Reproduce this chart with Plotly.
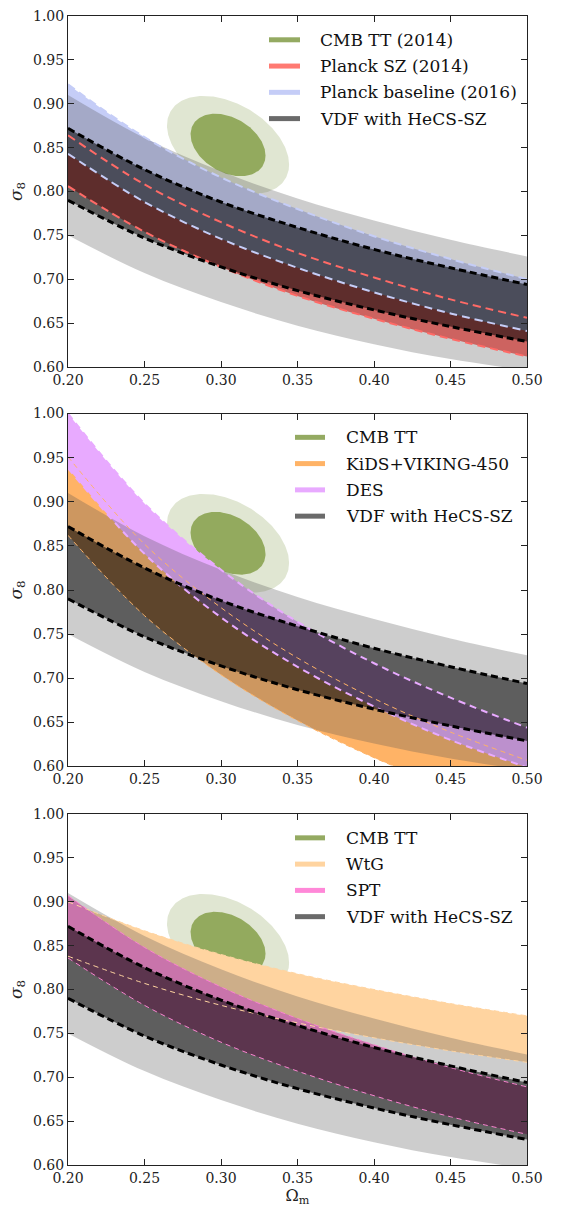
import numpy as np
import plotly.graph_objects as go

# ---------------- data ----------------
om = [0.20, 0.25, 0.30, 0.35, 0.40, 0.45, 0.50]

# VDF with HeCS-SZ (shared by all panels)
vdf_1s_hi = [0.872, 0.825, 0.788, 0.759, 0.734, 0.713, 0.694]
vdf_1s_lo = [0.790, 0.747, 0.714, 0.687, 0.665, 0.646, 0.629]
vdf_2s_hi = [0.910, 0.861, 0.823, 0.792, 0.767, 0.745, 0.726]
vdf_2s_lo = [0.750, 0.707, 0.674, 0.647, 0.626, 0.609, 0.596]

# panel 1
planck_sz_hi = [0.864, 0.808, 0.765, 0.730, 0.702, 0.677, 0.656]
planck_sz_lo = [0.806, 0.754, 0.714, 0.681, 0.655, 0.632, 0.612]
planck_base_hi = [0.922, 0.862, 0.816, 0.780, 0.749, 0.723, 0.700]
planck_base_lo = [0.843, 0.788, 0.746, 0.713, 0.685, 0.661, 0.641]

# panel 2
kids_hi = [0.951, 0.852, 0.780, 0.723, 0.677, 0.639, 0.607]
kids_lo = [0.862, 0.771, 0.704, 0.652, 0.610, 0.575, 0.545]
des_hi = [1.000, 0.898, 0.823, 0.764, 0.717, 0.678, 0.644]
des_lo = [0.938, 0.841, 0.769, 0.713, 0.668, 0.630, 0.599]

# panel 3
wtg_hi = [0.900, 0.867, 0.840, 0.818, 0.800, 0.784, 0.770]
wtg_lo = [0.838, 0.807, 0.782, 0.762, 0.745, 0.730, 0.717]
spt_hi = [0.907, 0.848, 0.803, 0.767, 0.737, 0.711, 0.689]
spt_lo = [0.836, 0.782, 0.740, 0.707, 0.679, 0.655, 0.635]

# CMB TT contour (1 and 2 sigma): centre, half widths, correlation
cmb_center = [0.3046, 0.853]
cmb_half_om = [0.0245, 0.0399]
cmb_half_s8 = [0.0356, 0.0559]
cmb_rho = [-0.34, -0.40]

legend_labels = [
    ["CMB TT (2014)", "Planck SZ (2014)", "Planck baseline (2016)", "VDF with HeCS-SZ"],
    ["CMB TT", "KiDS+VIKING-450", "DES", "VDF with HeCS-SZ"],
    ["CMB TT", "WtG", "SPT", "VDF with HeCS-SZ"],
]
x_ticks = [0.20, 0.25, 0.30, 0.35, 0.40, 0.45, 0.50]
y_ticks = [0.60, 0.65, 0.70, 0.75, 0.80, 0.85, 0.90, 0.95, 1.00]

# ---------------- styling ----------------
C_CMB_IN = "#93aa5e"
C_CMB_OUT = "#e0e6d2"
C_CMB_LEG = "#94aa62"
C_SZ = "#ff6a66"
C_BASE = "#c5cdf7"
C_KIDS = "#ffb366"
C_DES = "#e8aaff"
C_WTG = "#ffd4a0"
C_SPT = "#fa82d0"
GRAY2 = "rgba(81,81,81,0.29)"
GRAY1 = "rgba(0,0,0,0.54)"
C_VDF_LEG = "#6a6a6a"
FONT = "DejaVu Serif"

W, H = 561, 1209
L, R, T, B = 68, 34, 8, 42
panels_px = [(8, 362), (409, 765), (813, 1167)]
ph = H - T - B

fig = go.Figure()
axn = ["", "2", "3"]


def add_band(k, lo, hi, color):
    xa, ya = "x" + axn[k], "y" + axn[k]
    fig.add_trace(go.Scatter(x=om, y=lo, mode="lines", line=dict(width=0, shape="spline"),
                             hoverinfo="skip", showlegend=False, xaxis=xa, yaxis=ya))
    fig.add_trace(go.Scatter(x=om, y=hi, mode="lines", line=dict(width=0, shape="spline"),
                             fill="tonexty", fillcolor=color, hoverinfo="skip",
                             showlegend=False, xaxis=xa, yaxis=ya))


def add_dash(k, ys, color, width, dash):
    fig.add_trace(go.Scatter(x=om, y=ys, mode="lines",
                             line=dict(color=color, width=width, dash=dash, shape="spline"),
                             hoverinfo="skip", showlegend=False,
                             xaxis="x" + axn[k], yaxis="y" + axn[k]))


def add_cmb(k):
    t = np.linspace(0, 2 * np.pi, 240)
    for j, col in [(1, C_CMB_OUT), (0, C_CMB_IN)]:
        ex = cmb_center[0] + cmb_half_om[j] * np.cos(t)
        ey = cmb_center[1] + cmb_half_s8[j] * (cmb_rho[j] * np.cos(t)
                                                + np.sqrt(1 - cmb_rho[j] ** 2) * np.sin(t))
        fig.add_trace(go.Scatter(x=ex, y=ey, mode="lines", line=dict(width=0),
                                 fill="toself", fillcolor=col, hoverinfo="skip",
                                 showlegend=False, xaxis="x" + axn[k], yaxis="y" + axn[k]))


band_sets = [
    [(planck_sz_lo, planck_sz_hi, C_SZ, 2, "8px,5px"),
     (planck_base_lo, planck_base_hi, C_BASE, 2, "8px,5px")],
    [(kids_lo, kids_hi, C_KIDS, 1, "5px,4px"),
     (des_lo, des_hi, C_DES, 2, "7px,5px")],
    [(wtg_lo, wtg_hi, C_WTG, 1, "5px,4px"),
     (spt_lo, spt_hi, C_SPT, 1, "5px,4px")],
]
legend_colors = [
    [C_CMB_LEG, "#ff7a72", C_BASE, C_VDF_LEG],
    [C_CMB_LEG, C_KIDS, C_DES, C_VDF_LEG],
    [C_CMB_LEG, C_WTG, "#ff88d8", C_VDF_LEG],
]

for k in range(3):
    add_cmb(k)
    for lo, hi, col, w, d in band_sets[k]:
        add_band(k, lo, hi, col)
    add_band(k, vdf_2s_lo, vdf_2s_hi, GRAY2)
    add_band(k, vdf_1s_lo, vdf_1s_hi, GRAY1)
    for lo, hi, col, w, d in band_sets[k]:
        add_dash(k, lo, col, w, d)
        add_dash(k, hi, col, w, d)
    add_dash(k, vdf_1s_lo, "black", 3, "7px,4px")
    add_dash(k, vdf_1s_hi, "black", 3, "7px,4px")

axis_common = dict(showline=True, linecolor="#222", linewidth=1, mirror="ticks",
                   ticks="inside", ticklen=6, tickwidth=1, tickcolor="#222",
                   showgrid=False, zeroline=False, tickformat=".2f",
                   tickfont=dict(family=FONT, size=14, color="#222"))

layout = dict(width=W, height=H, margin=dict(l=L, r=R, t=T, b=B),
              paper_bgcolor="white", plot_bgcolor="white", showlegend=False)
shapes, annotations = [], []
for k, (top, bot) in enumerate(panels_px):
    d0 = 1 - (bot - T) / ph
    d1 = 1 - (top - T) / ph
    xa = dict(axis_common, domain=[0, 1], range=[0.2, 0.5], anchor="y" + axn[k],
              tickvals=x_ticks)
    ya = dict(axis_common, domain=[max(0, d0), min(1, d1)], range=[0.6, 1.0],
              anchor="x" + axn[k], tickvals=y_ticks,
              title=dict(text="<i>σ</i><sub>8</sub>", standoff=6,
                         font=dict(family=FONT, size=17, color="#222")))
    if k == 2:
        xa["title"] = dict(text="Ω<sub>m</sub>", standoff=4,
                           font=dict(family=FONT, size=16, color="#222"))
    layout["xaxis" + axn[k]] = xa
    layout["yaxis" + axn[k]] = ya

    # manual legend
    hpx = bot - top
    sx0, sx1, tx = ((269, 300, 318) if k == 0 else (295, 325, 343.5))
    for i, dy in enumerate([24, 50.5, 77, 103.5]):
        yy = 1 - dy / hpx
        shapes.append(dict(type="line", xref="x" + axn[k] + " domain",
                           yref="y" + axn[k] + " domain",
                           x0=(sx0 - L) / 459, x1=(sx1 - L) / 459, y0=yy, y1=yy,
                           line=dict(color=legend_colors[k][i], width=5)))
        annotations.append(dict(xref="x" + axn[k] + " domain", yref="y" + axn[k] + " domain",
                                x=(tx - L) / 459, y=yy, xanchor="left", yanchor="middle",
                                text=legend_labels[k][i], showarrow=False,
                                font=dict(family=FONT, size=17, color="#111")))

layout["shapes"] = shapes
layout["annotations"] = annotations
fig.update_layout(**layout)
fig.write_html("out.html")
